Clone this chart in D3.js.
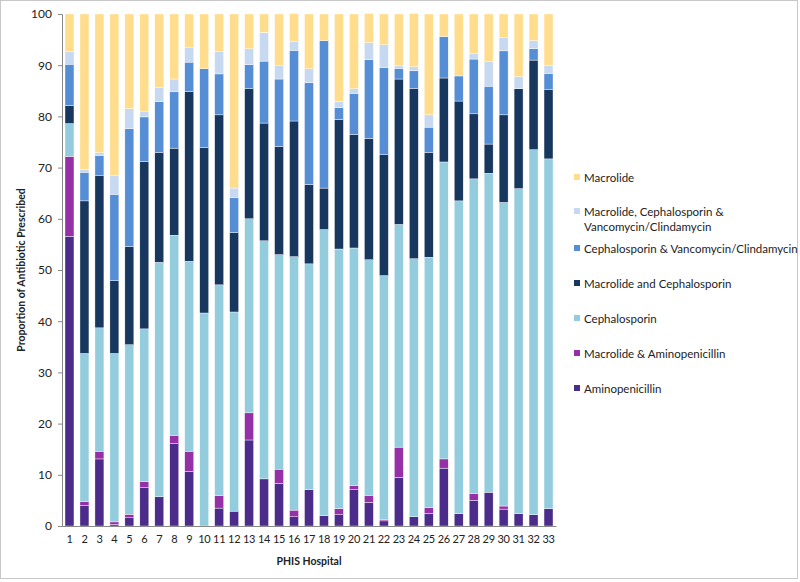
<!DOCTYPE html>
<html>
<head>
<meta charset="utf-8">
<script src="https://cdn.jsdelivr.net/npm/d3@7"></script>
<style>
  body { margin: 0; background: #fff; }
  text { font-family: Lato, "Open Sans", sans-serif; fill: #222; }
</style>
</head>
<body>
<div id="chart"></div>
<script>
/*
    Chart data: share of each antibiotic regimen per PHIS hospital
*/
var hospitals = d3.range(1, 34).map(String);

var categories = [
    "Aminopenicillin",
    "Macrolide & Aminopenicillin",
    "Cephalosporin",
    "Macrolide and Cephalosporin",
    "Cephalosporin & Vancomycin/Clindamycin",
    "Macrolide, Cephalosporin & Vancomycin/Clindamycin",
    "Macrolide"
];

var aminopenicillin = [56.6, 4.0, 13.1, 0.3, 1.6, 7.5, 5.7, 16.1, 10.7, 0, 3.5, 2.9, 16.8, 9.2, 8.3, 1.8, 7.1,
    2.0, 2.2, 7.1, 4.6, 1.0, 9.5, 1.8, 2.5, 11.3, 2.4, 5.0, 6.6, 3.3, 2.4, 2.2, 3.4];
var macrolideAmino = [15.6, 0.8, 1.5, 0.5, 0.7, 1.2, 0, 1.6, 3.9, 0, 2.4, 0, 5.3, 0, 2.8, 1.3, 0,
    0, 1.2, 0.8, 1.4, 0.3, 5.9, 0, 1.1, 1.8, 0, 1.3, 0, 0.6, 0, 0, 0];
var cephalosporin = [6.4, 28.9, 24.1, 32.9, 33.1, 29.8, 45.8, 39.1, 37.1, 41.6, 41.2, 38.9, 37.9, 46.5, 41.9, 49.5, 44.1,
    55.9, 50.7, 46.4, 46.0, 47.6, 43.5, 50.4, 48.9, 58.0, 61.1, 61.5, 62.3, 59.3, 63.5, 71.3, 68.3];
var macrolideCeph = [3.5, 29.8, 29.7, 14.2, 19.2, 32.7, 21.5, 17.0, 33.2, 32.3, 33.2, 15.5, 25.4, 23.0, 21.1, 26.5, 15.5,
    8.1, 25.3, 22.2, 23.7, 23.6, 28.4, 33.3, 20.5, 16.4, 19.5, 12.7, 5.7, 17.1, 19.5, 17.5, 13.5];
var cephVanco = [8.1, 5.6, 4.0, 16.9, 23.0, 8.7, 9.9, 11.0, 5.7, 15.4, 8.0, 6.8, 4.7, 12.1, 13.2, 13.8, 19.9,
    28.8, 2.3, 8.0, 15.4, 17.0, 2.1, 3.4, 4.9, 8.1, 4.9, 10.7, 11.3, 12.5, 0, 2.2, 3.2];
var macrolideCephVanco = [2.5, 0.6, 0.5, 3.6, 3.9, 1.0, 2.8, 2.5, 2.8, 0, 4.4, 1.9, 3.1, 5.6, 2.6, 1.8, 2.7,
    0, 1.2, 0.9, 3.3, 4.5, 0.6, 0.8, 2.4, 0, 0, 1.1, 4.8, 2.6, 2.4, 1.6, 1.6];
var macrolide = [7.3, 30.3, 27.1, 31.6, 18.5, 19.1, 14.3, 12.7, 6.6, 10.7, 7.3, 34.0, 6.8, 3.6, 10.1, 5.4, 10.7,
    5.2, 17.1, 14.6, 5.7, 6.0, 10.0, 10.4, 19.7, 4.4, 12.1, 7.7, 9.3, 4.6, 12.2, 5.2, 10.0];

var yTicks = [0, 10, 20, 30, 40, 50, 60, 70, 80, 90, 100];

var colors = ["#4b2c8a", "#9530a6", "#93cddd", "#17375e", "#558ed5", "#c6d9f0", "#ffdd8c"];

/* legend is listed top to bottom in reverse stack order */
var legendLabels = [
    ["Macrolide"],
    ["Macrolide, Cephalosporin &", "Vancomycin/Clindamycin"],
    ["Cephalosporin & Vancomycin/Clindamycin"],
    ["Macrolide and Cephalosporin"],
    ["Cephalosporin"],
    ["Macrolide & Aminopenicillin"],
    ["Aminopenicillin"]
];
var legendY = [178, 212, 249, 284, 319, 354, 389];

var width = 800, height = 582;
var margin = { top: 14, right: 244, bottom: 56, left: 62 };

var svg = d3.select("#chart").append("svg")
    .attr("width", width)
    .attr("height", height);

// chart area border
svg.append("rect")
    .attr("x", 0.5).attr("y", 0.5)
    .attr("width", width - 3).attr("height", height - 4)
    .attr("fill", "#fff")
    .attr("stroke", "#c8c8c8");

var series = [aminopenicillin, macrolideAmino, cephalosporin, macrolideCeph, cephVanco, macrolideCephVanco, macrolide];

// build a table the stack layout can read
var table = hospitals.map(function (h, i) {
    var row = { hospital: h };
    categories.forEach(function (c, j) { row[c] = series[j][i]; });
    return row;
});

var stacked = d3.stack().keys(categories)(table);

var x = d3.scaleBand()
    .domain(hospitals)
    .range([margin.left, width - margin.right])
    .paddingInner(0.4)
    .paddingOuter(0.2);

var y = d3.scaleLinear()
    .domain([0, 100])
    .range([height - margin.bottom, margin.top]);

var g = svg.append("g");

g.selectAll(".layer")
    .data(stacked)
    .enter().append("g")
    .attr("class", "layer")
    .attr("fill", function (d, i) { return colors[i]; })
    .selectAll("rect")
    .data(function (d) { return d; })
    .enter().append("rect")
    .attr("x", function (d) { return x(d.data.hospital); })
    .attr("width", x.bandwidth())
    .attr("y", function (d) { return y(d[1]); })
    .attr("height", function (d) { return Math.max(0, y(d[0]) - y(d[1])); })
    .attr("stroke", "#fff")
    .attr("stroke-width", 0.4);

/* axes */
var yAxis = svg.append("g")
    .attr("transform", "translate(" + margin.left + ",0)")
    .call(d3.axisLeft(y).tickValues(yTicks).tickSize(4).tickPadding(6));

var xAxis = svg.append("g")
    .attr("transform", "translate(0," + (height - margin.bottom) + ")")
    .call(d3.axisBottom(x).tickSize(0).tickPadding(9));

[yAxis, xAxis].forEach(function (a) {
    a.select(".domain").attr("stroke", "#888");
    a.selectAll(".tick line").attr("stroke", "#888");
    a.selectAll("text").style("font-family", "Lato, sans-serif").attr("fill", "#222");
});
yAxis.selectAll("text").style("font-size", "12px");
xAxis.selectAll("text").style("font-size", "11px").style("letter-spacing", "-0.3px");

// axis titles
svg.append("text")
    .attr("transform", "translate(25," + ((margin.top + height - margin.bottom) / 2) + ") rotate(-90)")
    .attr("text-anchor", "middle")
    .style("font-size", "10.5px")
    .style("font-weight", "bold")
    .text("Proportion of Antibiotic Prescribed");

svg.append("text")
    .attr("x", (margin.left + width - margin.right) / 2)
    .attr("y", 565)
    .attr("text-anchor", "middle")
    .style("font-size", "10.5px")
    .style("font-weight", "bold")
    .text("PHIS Hospital");

/* legend */
var legend = svg.append("g");
legendLabels.forEach(function (lines, i) {
    var item = legend.append("g").attr("transform", "translate(574," + legendY[i] + ")");
    item.append("rect")
        .attr("x", 0).attr("y", -4)
        .attr("width", 6).attr("height", 6)
        .attr("fill", colors[colors.length - 1 - i]);
    lines.forEach(function (t, k) {
        item.append("text")
            .attr("x", 10)
            .attr("y", k * 15 + 3.5)
            .style("font-size", "11.5px")
            .text(t);
    });
});
</script>
</body>
</html>
